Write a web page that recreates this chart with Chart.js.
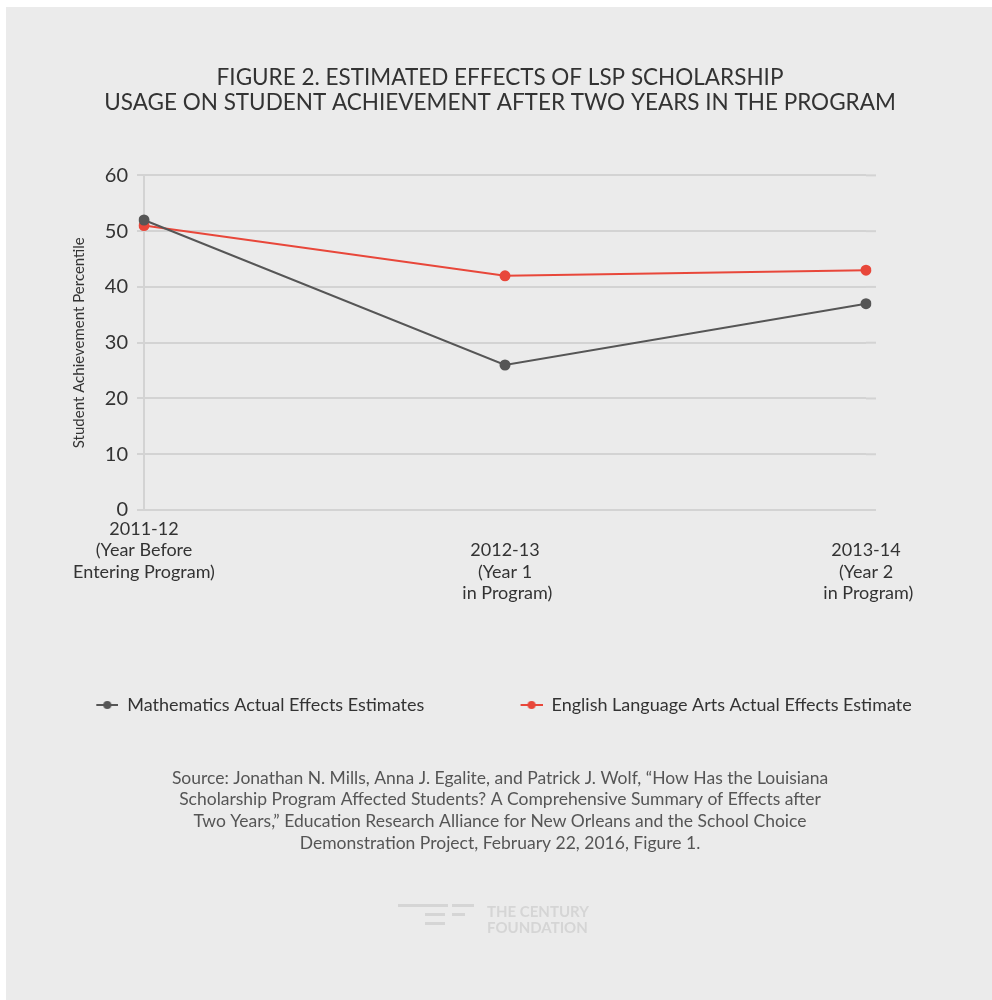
<!DOCTYPE html>
<html>
<head>
<meta charset="utf-8">
<title>LSP Scholarship Effects</title>
<script src="https://cdn.jsdelivr.net/npm/chart.js@4"></script>
<style>
  html, body { margin: 0; padding: 0; background: #fff; }
  .panel { position: absolute; left: 6px; top: 7px; width: 986px; height: 993px; background: #ebebeb; }
  .wrap { position: absolute; left: 0; top: 0; width: 992px; height: 1000px; }
</style>
</head>
<body>
<div class="panel"></div>
<div class="wrap"><canvas id="effectsChart"></canvas></div>
<script>
  const years = [
    ['2011-12', '(Year Before', 'Entering Program)'],
    ['', '2012-13', '(Year 1', ' in Program)'],
    ['', '2013-14', '(Year 2', ' in Program)']
  ];
  const mathEstimates = [52, 26, 37];
  const elaEstimates = [51, 42, 43];
  const yTicks = [0, 10, 20, 30, 40, 50, 60];

  const titleLines = [
    'FIGURE 2. ESTIMATED EFFECTS OF LSP SCHOLARSHIP',
    'USAGE ON STUDENT ACHIEVEMENT AFTER TWO YEARS IN THE PROGRAM'
  ];
  const sourceLines = [
    'Source: Jonathan N. Mills, Anna J. Egalite, and Patrick J. Wolf, \u201cHow Has the Louisiana',
    'Scholarship Program Affected Students? A Comprehensive Summary of Effects after',
    'Two Years,\u201d Education Research Alliance for New Orleans and the School Choice',
    'Demonstration Project, February 22, 2016, Figure 1.'
  ];

  const GREY = '#565656';
  const RED = '#e8473a';
  const GRID = '#d3d3d3';
  const FONT = 'Lato, "Open Sans", sans-serif';

  // little "-●-" marks for the legend, padded on the left
  function legendMark(color) {
    const c = document.createElement('canvas');
    c.width = 30; c.height = 12;
    const ctx = c.getContext('2d');
    ctx.strokeStyle = color;
    ctx.lineWidth = 2;
    ctx.beginPath(); ctx.moveTo(8, 6); ctx.lineTo(30, 6); ctx.stroke();
    ctx.fillStyle = color;
    ctx.beginPath(); ctx.arc(19, 6, 4, 0, Math.PI * 2); ctx.fill();
    return c;
  }
  const legendMarks = [legendMark(GREY), legendMark(RED)];

  // horizontal grid lines run a bit past the last category
  const gridTail = {
    id: 'gridTail',
    beforeDatasetsDraw(chart) {
      const { ctx, chartArea, scales } = chart;
      ctx.save();
      ctx.strokeStyle = GRID;
      ctx.lineWidth = 2;
      scales.y.ticks.forEach(t => {
        const y = scales.y.getPixelForValue(t.value);
        ctx.beginPath();
        ctx.moveTo(chartArea.right, y);
        ctx.lineTo(chartArea.right + 10, y);
        ctx.stroke();
      });
      ctx.restore();
    }
  };

  // faint foundation logo under the source note
  const logo = {
    id: 'logo',
    afterDraw(chart) {
      const ctx = chart.ctx;
      ctx.save();
      ctx.fillStyle = '#d5d5d5';
      ctx.fillRect(398, 904, 50, 3);
      ctx.fillRect(452, 904, 22, 3);
      ctx.fillRect(425, 913, 20, 3);
      ctx.fillRect(452, 913, 13, 3);
      ctx.fillRect(425, 922, 20, 3);
      ctx.font = 'bold 15px ' + FONT;
      ctx.textBaseline = 'middle';
      ctx.fillText('THE CENTURY', 487, 912);
      ctx.fillText('FOUNDATION', 487, 928);
      ctx.restore();
    }
  };

  new Chart(document.getElementById('effectsChart'), {
    type: 'line',
    data: {
      labels: years,
      datasets: [{
        label: 'Mathematics Actual Effects Estimates',
        data: mathEstimates,
        borderColor: GREY,
        backgroundColor: GREY,
        pointBackgroundColor: GREY,
        borderWidth: 2,
        pointRadius: 5.5,
        pointBorderWidth: 0,
        tension: 0
      }, {
        label: 'English Language Arts Actual Effects Estimate',
        data: elaEstimates,
        borderColor: RED,
        backgroundColor: RED,
        pointBackgroundColor: RED,
        borderWidth: 2,
        pointRadius: 5.5,
        pointBorderWidth: 0,
        tension: 0
      }]
    },
    options: {
      responsive: true,
      maintainAspectRatio: false,
      animation: false,
      layout: { padding: { top: 0, left: 64, right: 56, bottom: 146 } },
      scales: {
        x: {
          offset: false,
          grid: { display: false, drawTicks: false },
          border: { color: GRID, width: 2 },
          ticks: {
            color: '#333',
            padding: 8,
            maxRotation: 0,
            autoSkip: false,
            font: { family: FONT, size: 18, lineHeight: 1.2 }
          },
          afterFit(scale) { scale.height = 176; }
        },
        y: {
          min: 0,
          max: 60,
          afterBuildTicks(scale) { scale.ticks = yTicks.map(v => ({ value: v })); },
          grid: { color: GRID, lineWidth: 2, tickLength: 7 },
          border: { color: GRID, width: 2 },
          ticks: {
            color: '#333',
            padding: 9,
            font: { family: FONT, size: 20 }
          },
          title: {
            display: true,
            text: 'Student Achievement Percentile',
            color: '#333',
            padding: { top: 6, bottom: 0 },
            font: { family: FONT, size: 15 }
          },
          afterFit(scale) { scale.width = 80; }
        },
        // empty right-hand axis: keeps the plot narrower than the title block
        y2: {
          position: 'right',
          display: true,
          grid: { display: false },
          border: { display: false },
          ticks: { display: false },
          afterFit(scale) { scale.width = 70; }
        }
      },
      plugins: {
        title: {
          display: true,
          text: titleLines,
          color: '#333',
          padding: { top: 65, bottom: 60 },
          font: { family: FONT, size: 22.5, weight: 'normal', lineHeight: 1.12 }
        },
        subtitle: {
          display: true,
          position: 'bottom',
          text: sourceLines,
          color: '#555',
          padding: { top: 43, bottom: 0 },
          font: { family: FONT, size: 17.5, lineHeight: 1.243 }
        },
        legend: {
          position: 'bottom',
          labels: {
            usePointStyle: true,
            pointStyleWidth: 30,
            boxHeight: 12,
            padding: 10,
            color: '#333',
            font: { family: FONT, size: 18 },
            generateLabels(chart) {
              const items = Chart.defaults.plugins.legend.labels.generateLabels(chart);
              items.forEach((item, i) => {
                item.pointStyle = legendMarks[i];
                // extra room after the first entry
                if (i === 0) item.text = item.text + '\u00a0'.repeat(17);
              });
              return items;
            }
          }
        },
        tooltip: { enabled: false }
      }
    },
    plugins: [gridTail, logo]
  });
</script>
</body>
</html>
